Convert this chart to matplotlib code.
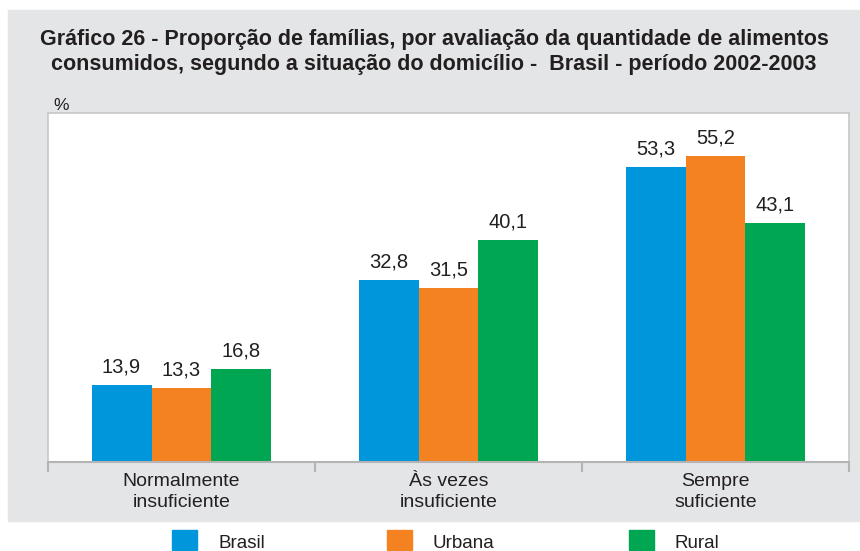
import matplotlib
matplotlib.use('Agg')
import matplotlib.pyplot as plt
import matplotlib.patches as mpatches
import numpy as np

plt.rcParams['font.family'] = ['Liberation Sans', 'DejaVu Sans']

# Data
categories = ['Normalmente\ninsuficiente', 'Às vezes\ninsuficiente', 'Sempre\nsuficiente']
series = ['Brasil', 'Urbana', 'Rural']
brasil = [13.9, 32.8, 53.3]
urbana = [13.3, 31.5, 55.2]
rural = [16.8, 40.1, 43.1]
colors = ['#0096db', '#f58220', '#00a651']
TXT = '#231f20'

fig = plt.figure(figsize=(8.6, 5.51), dpi=100)
W, H = 860., 551.

# gray panel behind title and plot
fig.patches.append(mpatches.Rectangle((8 / W, 30 / H), 852 / W, 511 / H,
                                      transform=fig.transFigure, color='#e4e5e7', zorder=-10))

fig.text(434 / W, 1 - 52 / H,
         'Gráfico 26 - Proporção de famílias, por avaliação da quantidade de alimentos\n'
         'consumidos, segundo a situação do domicílio -  Brasil - período 2002-2003',
         ha='center', va='center', fontsize=15.5, fontweight='bold', color=TXT,
         linespacing=1.3)
fig.text(53 / W, 1 - 106 / H, '%', fontsize=12.5, color=TXT, va='center')

ax = fig.add_axes([48 / W, 89 / H, 801 / W, 349 / H])
ax.set_facecolor('white')

x = np.arange(len(categories))
w = 0.2247
for i, (vals, c) in enumerate(zip([brasil, urbana, rural], colors)):
    bars = ax.bar(x + (i - 1) * w, vals, width=w, color=c, zorder=2)
    for b, v in zip(bars, vals):
        ax.annotate(f'{v:.1f}'.replace('.', ','), (b.get_x() + b.get_width() / 2, v),
                    xytext=(0, 6), textcoords='offset points', ha='center', va='bottom',
                    fontsize=14.5, color=TXT)

ax.set_xlim(-0.5, 2.5)
ax.set_ylim(0, 63)
ax.set_yticks([])
ax.set_xticks(x)
ax.set_xticklabels(categories, fontsize=14, color=TXT, linespacing=1.3)
ax.tick_params(axis='x', which='major', length=0, pad=8)
ax.set_xticks([-0.5, 0.5, 1.5, 2.5], minor=True)
ax.tick_params(axis='x', which='minor', length=7, width=1.5, color='#b4b4b4', direction='out')

for s in ['top', 'left', 'right']:
    ax.spines[s].set_color('#c8c8c8')
    ax.spines[s].set_linewidth(1.2)
ax.spines['bottom'].set_color('#b4b4b4')
ax.spines['bottom'].set_linewidth(1.5)

# legend below the panel
leg_x = [172, 387, 629]
for lx, name, c in zip(leg_x, series, colors):
    fig.patches.append(mpatches.Rectangle((lx / W, 1 / H), 25 / W, 20 / H,
                                          transform=fig.transFigure, color=c))
    fig.text((lx + 46) / W, 1 - 543 / H, name, fontsize=13.5, color=TXT, va='center')

fig.savefig('out.png', dpi=100, facecolor='white')
